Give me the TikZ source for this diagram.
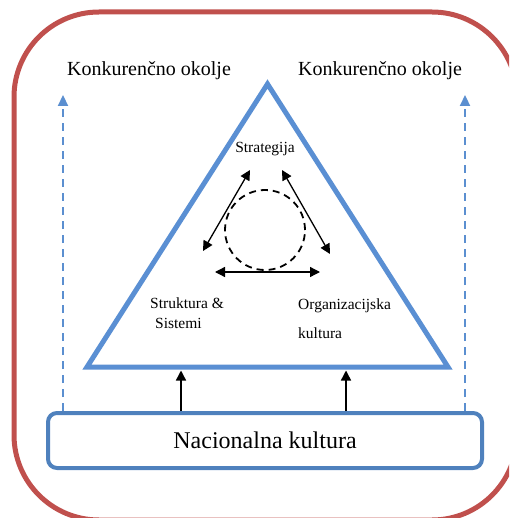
\documentclass[tikz,border=0pt]{standalone}
\usepackage{fontspec}
\setmainfont{Liberation Serif}
\usetikzlibrary{arrows.meta}
\definecolor{framered}{HTML}{C0504D}
\definecolor{triblue}{HTML}{5A8FD3}
\definecolor{boxblue}{HTML}{4F81BD}
\definecolor{dashblue}{HTML}{5B8FD0}
\begin{document}
\begin{tikzpicture}[x=1pt,y=-1pt,
  frame/.style={draw=framered,line width=5pt,rounded corners=85pt},
  tri/.style={draw=triblue,line width=5pt,line join=miter},
  basebox/.style={draw=boxblue,line width=4pt,rounded corners=9pt,minimum width=434pt,minimum height=55pt,inner sep=0pt},
  dasharrow/.style={draw=dashblue,line width=2.2pt,dash pattern=on 8pt off 6pt,-{Triangle[length=11pt,width=10pt]}},
  blackarrow/.style={draw=black,line width=1.4pt,-{Triangle[length=10pt,width=10pt]}},
  dblarrow/.style={draw=black,line width=1.3pt,{Triangle[length=10pt,width=10pt]}-{Triangle[length=10pt,width=10pt]}},
  bigtxt/.style={font=\fontsize{20}{24}\selectfont,inner sep=0pt},
  midtxt/.style={font=\fontsize{15.5}{20}\selectfont,inner sep=0pt},
  hugetxt/.style={font=\fontsize{24}{28}\selectfont,inner sep=0pt}
]
\useasboundingbox (0,0) rectangle (509,518);
\clip (0,0) rectangle (509,518);
% outer frame
\draw[frame] (14,12) rectangle (517,520);
% triangle
\coordinate (apex) at (267.5,84);
\coordinate (bl) at (87,367);
\coordinate (br) at (448,367);
\draw[tri] (apex) -- (bl) -- (br) -- cycle;
% bottom box
\node[basebox,hugetxt] (box) at (265,440.5) {Nacionalna kultura};
% top labels
\node[bigtxt] (kl) at (149,71) {Konkurenčno okolje};
\node[bigtxt] (kr) at (380,71) {Konkurenčno okolje};
% dashed arrows
\coordinate (dl) at (63,95);
\coordinate (dr) at (465,95);
\draw[dasharrow] (box.north -| dl) -- (dl);
\draw[dasharrow] (box.north -| dr) -- (dr);
% black arrows up to triangle base
\coordinate (a1) at (181,370.5);
\coordinate (a2) at (346,370.5);
\draw[blackarrow] (box.north -| a1) -- (a1);
\draw[blackarrow] (box.north -| a2) -- (a2);
% inner labels
\node[midtxt] (strat) at (265,149) {Strategija};
\node[midtxt,anchor=west] (str1) at (150,303) {Struktura \&};
\node[midtxt,anchor=west] (str2) at (155,323) {Sistemi};
\node[midtxt,anchor=west] (org1) at (298,306) {Organizacijska};
\node[midtxt,anchor=west] (org2) at (298,333) {kultura};
% dashed circle
\node[draw=black,line width=1.8pt,dash pattern=on 7pt off 5pt,circle,minimum size=80pt,inner sep=0pt] (circ) at (265,230) {};
% double arrows
\coordinate (l1) at (250,170);
\coordinate (l2) at (203,251);
\coordinate (r1) at (282,170);
\coordinate (r2) at (330,254);
\coordinate (b1) at (215,272);
\coordinate (b2) at (320,272);
\draw[dblarrow] (l1) -- (l2);
\draw[dblarrow] (r1) -- (r2);
\draw[dblarrow] (b1) -- (b2);
\end{tikzpicture}
\end{document}
